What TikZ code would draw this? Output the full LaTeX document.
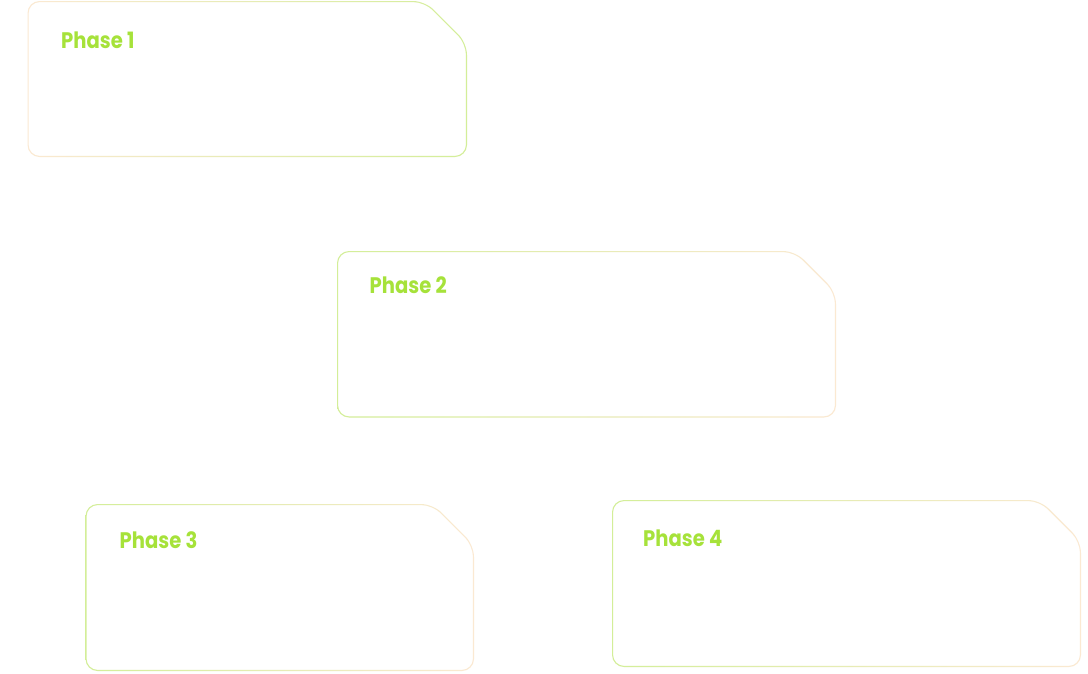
\documentclass[tikz,border=0pt]{standalone}
\usepackage{fontspec}
\newfontfamily\phasefont{Poppins}[FakeStretch=0.87]
\definecolor{edgegreen}{HTML}{D3EE98}
\definecolor{edgepeach}{HTML}{FBE9D2}
\definecolor{phasegreen}{HTML}{A6E23A}

% Outline of a card with a clipped top-right corner, drawn as a thin
% shaded ring so the border can run from one colour to another.
% #1 left, #2 top, #3 right, #4 bottom, #5 corner cut, #6 left colour, #7 right colour
\newcommand\phasecard[7]{%
  \shade[left color=#6, right color=#7, even odd rule]
    [rounded corners=12pt]
    (#1,#2) -- ({#3-#5},#2) -- (#3,{#2+#5}) -- (#3,#4) -- (#1,#4) -- cycle
    [rounded corners=11pt]
    ({#1+1.1},{#2+1.1}) -- ({#3-#5-0.46},{#2+1.1}) -- ({#3-1.1},{#2+#5+0.46})
    -- ({#3-1.1},{#4-1.1}) -- ({#1+1.1},{#4-1.1}) -- cycle;%
}

\tikzset{
  phaselabel/.style={anchor=base west, inner sep=0pt, text=phasegreen,
    font=\phasefont\bfseries\fontsize{22.5pt}{26pt}\selectfont}
}

\begin{document}
\begin{tikzpicture}[x=1pt, y=-1pt]
  \useasboundingbox[fill=white] (0,0) rectangle (1088,673);

  \phasecard{27.5}{1}{467}{157}{42}{edgepeach}{edgegreen}
  \phasecard{337}{251}{836}{417.5}{41}{edgegreen}{edgepeach}
  \phasecard{85.5}{504}{474}{671}{41}{edgegreen}{edgepeach}
  \phasecard{612}{500}{1081}{667}{41}{edgegreen}{edgepeach}

  \node[phaselabel] (p1) at (61,48) {Phase 1};
  \node[phaselabel] (p2) at (369.5,293) {Phase 2};
  \node[phaselabel] (p3) at (119.5,548.7) {Phase 3};
  \node[phaselabel] (p4) at (643,546.3) {Phase 4};
\end{tikzpicture}
\end{document}
